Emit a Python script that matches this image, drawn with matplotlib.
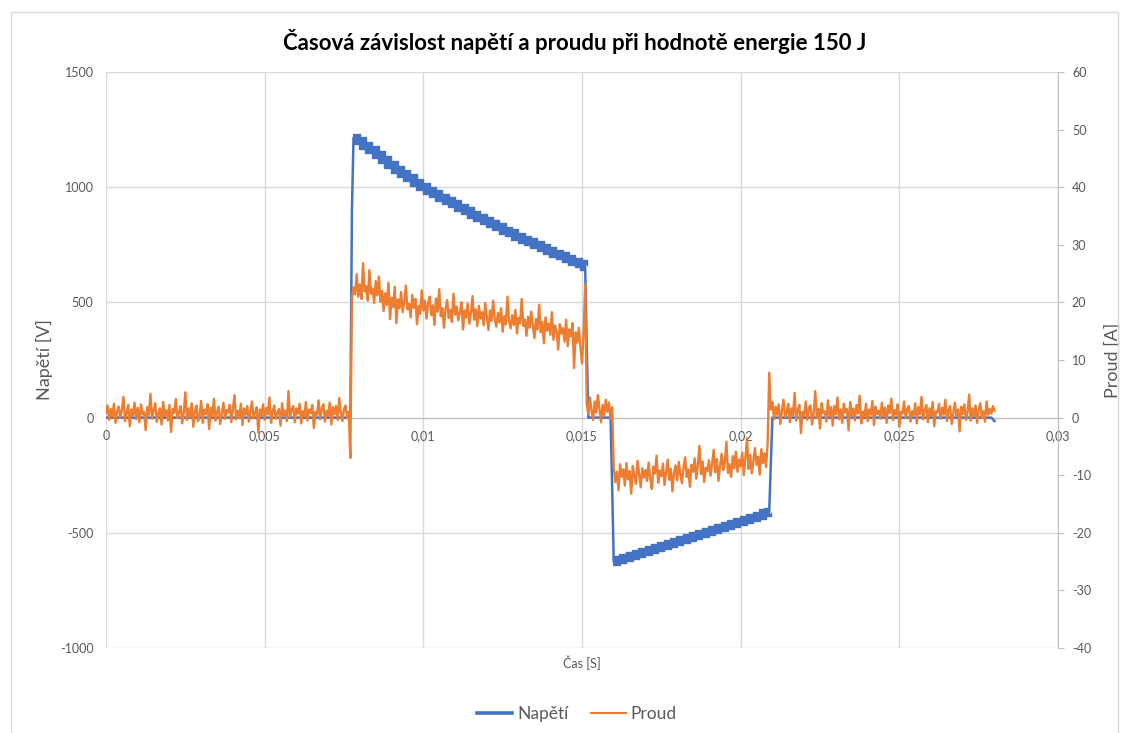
import numpy as np
import matplotlib
matplotlib.use('Agg')
import matplotlib.pyplot as plt
from matplotlib.patches import Rectangle
from matplotlib.lines import Line2D
from matplotlib.ticker import FuncFormatter

plt.rcParams['font.family'] = ['Lato', 'DejaVu Sans']
plt.rcParams['axes.unicode_minus'] = False

# ---------------- texts ----------------
title = 'Časová závislost napětí a proudu při hodnotě energie 150 J'
xlabel = 'Čas [S]'
ylabel_left = 'Napětí [V]'
ylabel_right = 'Proud [A]'
series_names = ['Napětí', 'Proud']

x_ticks = [0, 0.005, 0.01, 0.015, 0.02, 0.025, 0.03]
y_ticks_left = [-1000, -500, 0, 500, 1000, 1500]
y_ticks_right = [-40, -30, -20, -10, 0, 10, 20, 30, 40, 50, 60]

# ---------------- voltage (V) ----------------
volt_t = [0.0, 0.0077, 0.00775,
          0.0078, 0.0080, 0.0082, 0.0084, 0.0086, 0.0088, 0.0090, 0.0092, 0.0094, 0.0096,
          0.0098, 0.0100, 0.0102, 0.0104, 0.0106, 0.0108, 0.0110, 0.0112, 0.0114, 0.0116,
          0.0118, 0.0120, 0.0122, 0.0124, 0.0126, 0.0128, 0.0130, 0.0132, 0.0134, 0.0136,
          0.0138, 0.0140, 0.0142, 0.0144, 0.0146, 0.0148, 0.0150, 0.0151,
          0.01515, 0.0152, 0.0159, 0.01595,
          0.0160, 0.0162, 0.0164, 0.0166, 0.0168, 0.0170, 0.0172, 0.0174, 0.0176, 0.0178,
          0.0180, 0.0182, 0.0184, 0.0186, 0.0188, 0.0190, 0.0192, 0.0194, 0.0196, 0.0198,
          0.0200, 0.0202, 0.0204, 0.0206, 0.0208, 0.0209,
          0.02095, 0.0210, 0.0279, 0.0280]
volt_u = [0, 0, 900,
          1215, 1200, 1180, 1160, 1140, 1118, 1095, 1075, 1058, 1038,
          1020, 1000, 985, 970, 955, 940, 925, 910, 895, 880,
          866, 852, 840, 826, 812, 800, 786, 773, 760, 748,
          736, 724, 712, 700, 690, 676, 665, 655,
          300, 0, 0, -300,
          -625, -616, -608, -600, -591, -582, -574, -565, -557, -548,
          -540, -531, -523, -514, -506, -497, -489, -480, -472, -463,
          -455, -445, -435, -425, -416, -410,
          -200, 0, 0, -15]
pulse_windows = [(0.0078, 0.0151), (0.0160, 0.0209)]

# ---------------- current (A), one sample every 0.05 ms from 0 to 28 ms ----------------
cur_dt = 0.00005
cur_base1 = [0.8, 2.1, -0.4, 1.5, 0.2, 2.4, -0.9, 1.1, 1.9, 0.0,
             1.3, 3.6, -0.6, 0.9, 2.2, -1.5, 1.4, 0.4, 2.6, -0.3,
             1.7, -0.8, 2.3, 0.6, 1.0, -2.2, 1.8, 0.5, 4.1, -0.2,
             1.2, 2.5, -0.7, 0.7, 1.6, -1.2, 2.7, 0.3, 1.3, -0.5,
             2.2, -2.5, 1.5, 0.8, 3.2, -0.1, 0.9, 2.0, -1.0, 0.8,
             4.4, -0.4, 1.6, 0.1, 2.5, -1.6, 1.1, 2.1, -0.6, 0.4,
             2.9, -0.9, 1.4, 0.6, 2.3, -2.0, 1.7, 0.2, 3.3, -0.5,
             1.0, 1.9, -1.1, 0.7, 2.6, -0.2, 1.3, 0.9, 2.2, -0.8,
             1.5, 3.9, -0.3, 1.2, 0.0, 2.4, -1.3, 1.6, 0.5, 2.0,
             -0.7, 1.1, 2.8, -0.1, 0.8, 1.8, -2.6, 1.4, 0.3, 2.3,
             -0.4, 1.7, 0.6, 3.5, -0.9, 1.0, 2.1, -0.2, 0.9, 1.5,
             -1.4, 2.5, 0.4, 1.2, -0.6, 4.6, 0.1, 1.3, 2.0, -0.8,
             1.6, 0.7, 2.4, -1.0, 1.1, 0.2, 2.7, -0.5, 1.4, 0.8,
             2.2, -1.8, 1.0, 0.5, 3.0, -0.3, 1.6, 2.3, -0.7, 1.2,
             0.3, 2.6, -1.2, 1.8, 0.6, 2.0, -0.4, 3.4, 0.9, -0.6,
             1.5, 2.1, -0.1, 1.0]
cur_spike1 = [-7.0]
cur_pulse1 = [20.8, 22.6, 21.4, 24.9, 21.0, 23.1, 20.6, 26.8, 21.9, 22.8,
              20.3, 25.6, 21.5, 22.4, 19.9, 23.7, 21.2, 24.5, 20.1, 22.0,
              18.5, 21.6, 19.6, 23.4, 17.1, 20.8, 19.2, 22.7, 16.4, 20.5,
              19.0, 21.8, 18.3, 20.2, 22.9, 18.8, 19.7, 17.4, 21.3, 19.1,
              20.6, 16.2, 19.4, 18.0, 22.1, 18.6, 20.3, 17.2, 19.8, 21.0,
              17.8, 19.5, 16.1, 20.7, 18.4, 22.3, 17.6, 19.0, 15.6, 18.9,
              20.4, 17.3, 18.7, 16.6, 21.5, 17.9, 19.3, 16.9, 18.2, 20.0,
              15.3, 18.6, 17.4, 19.8, 16.3, 18.1, 21.1, 17.0, 18.8, 15.9,
              19.4, 17.2, 18.3, 16.0, 19.9, 17.5, 15.2, 18.6, 16.8, 20.3,
              17.1, 15.8, 18.2, 16.5, 19.0, 14.9, 17.6, 16.2, 21.0, 16.9,
              15.5, 17.8, 16.1, 18.7, 14.6, 17.3, 16.4, 20.6, 15.9, 17.0,
              14.2, 17.5, 15.6, 18.4, 16.0, 13.8, 17.1, 15.3, 19.6, 14.8,
              16.6, 12.9, 17.4, 15.1, 16.3, 14.4, 18.3, 13.5, 16.0, 14.9,
              11.8, 16.2, 14.6, 15.5, 13.2, 17.0, 12.4, 15.3, 14.1, 16.4,
              8.6, 14.8, 13.0, 15.6, 12.2, 9.4, 14.5]
cur_spike2 = [23.0]
cur_gap = [2.4, 0.6, 3.5, 1.2, -0.4, 2.8, 0.9, 3.9, 1.5, -0.8,
           2.2, 0.4, 3.1, 1.0, 2.6, -0.2, 1.8]
cur_pulse2 = [-8.6, -11.2, -9.4, -12.6, -8.1, -10.3, -9.0, -11.8, -7.9, -10.7,
              -9.3, -13.2, -8.4, -10.1, -11.5, -7.5, -9.8, -12.1, -8.8, -10.4,
              -9.1, -11.0, -7.8, -10.6, -12.4, -8.5, -9.7, -6.6, -11.3, -9.2,
              -10.2, -8.0, -11.7, -9.5, -7.3, -10.8, -8.9, -12.8, -9.6, -8.3,
              -10.9, -7.7, -9.9, -11.4, -8.6, -6.9, -10.3, -9.0, -12.0, -8.2,
              -9.4, -7.1, -10.6, -8.3, -4.9, -9.8, -7.6, -11.2, -8.7, -9.3,
              -7.4, -10.1, -8.0, -5.6, -9.5, -7.2, -11.0, -8.4, -6.3, -9.1,
              -7.8, -4.2, -9.6, -8.1, -10.3, -6.7, -8.8, -5.9, -9.4, -7.3,
              -8.5, -6.1, -10.0, -7.0, -3.6, -8.9, -6.5, -9.7, -7.6, -5.3,
              -8.2, -6.8, -9.9, -5.5, -7.9, -6.2, -8.6, -4.4]
cur_spike3 = [7.8]
cur_base2 = [1.4, 2.7, -0.3, 1.9, 0.5, 2.3, -1.1, 1.2, 3.1, 0.1,
             0.9, 2.4, -0.8, 1.6, 0.4, 4.3, -0.5, 1.3, 2.2, -2.7,
             1.0, 0.3, 2.8, -0.4, 1.7, 2.1, -1.2, 0.7, 4.6, 0.0,
             1.5, -1.9, 2.5, 0.8, 1.1, -0.7, 3.0, 0.2, 1.8, -1.4,
             2.0, 0.6, 3.5, -0.3, 1.4, -0.9, 2.4, 0.9, 1.5, -2.2,
             2.7, 0.4, 1.6, -0.5, 2.2, 0.7, 3.8, -1.0, 1.0, 0.1,
             2.4, -0.6, 1.4, 0.5, 2.9, -1.3, 1.9, 0.6, 1.2, -0.2,
             2.6, 0.2, 1.7, -0.9, 2.1, 0.8, 3.3, -0.4, 1.3, 0.5,
             2.3, -1.6, 1.0, 0.7, 2.8, -0.1, 1.5, 2.0, -0.7, 1.1,
             0.4, 2.5, -1.0, 1.8, 0.6, 3.6, -0.3, 1.2, 2.2, -0.8,
             1.6, 0.3, 2.7, -1.5, 1.1, 0.9, 2.4, -0.2, 1.7, 0.5,
             3.1, -0.6, 1.3, 2.0, -1.1, 0.8, 2.6, 0.2, 1.4, -2.4,
             1.9, 0.6, 2.3, -0.4, 1.0, 4.0, -0.5, 1.6, 0.3, 2.1,
             -0.9, 1.3, 2.5, 0.0, 1.1, -0.7, 2.8, 0.5, 1.5, 0.7,
             2.0, 1.2]

current = np.array(cur_base1 + cur_spike1 + cur_pulse1 + cur_spike2 + cur_gap +
                   cur_pulse2 + cur_spike3 + cur_base2)
cur_t = np.arange(len(current)) * cur_dt

# ---------------- styling ----------------
BLUE = '#4472C4'
ORANGE = '#ED7D31'
TXT = '#595959'
GRID = '#D9D9D9'
AXL = '#BFBFBF'

W, H = 1125, 733
fig = plt.figure(figsize=(W / 100, H / 100), dpi=100)
fig.patches.append(Rectangle((11 / W, -0.05), (1118 - 11) / W, 1 - 12 / H + 0.05,
                             transform=fig.transFigure, fill=False, edgecolor=GRID, lw=1.0))

ax = fig.add_axes([106 / W, 1 - 648 / H, 952 / W, 576 / H])
ax2 = ax.twinx()

vt = np.array(volt_t)
vu = np.array(volt_u, dtype=float)
ax.plot(vt, vu, color=BLUE, lw=1.8, zorder=3)
in_pulse = np.zeros(len(vt), dtype=bool)
for a, b in pulse_windows:
    in_pulse |= (vt >= a - 1e-9) & (vt <= b + 1e-9)
thick = np.where(in_pulse, vu, np.nan)
ax.plot(vt, thick, color=BLUE, lw=6.0, drawstyle='steps-mid',
        solid_capstyle='butt', solid_joinstyle='miter', zorder=3)

ax2.plot(cur_t, current, color=ORANGE, lw=1.7)

ax.set_xlim(0, 0.03)
ax.set_ylim(-1000, 1500)
ax2.set_ylim(-40, 60)

ax.set_xticks(x_ticks)
ax.xaxis.set_major_formatter(FuncFormatter(lambda v, p: '0' if v == 0 else f'{v:g}'.replace('.', ',')))
ax.set_yticks(y_ticks_left)
ax2.set_yticks(y_ticks_right)

ax.grid(True, color=GRID, lw=1.0)
ax.set_axisbelow(True)

for s in ['top', 'left', 'right']:
    ax.spines[s].set_visible(False)
ax.spines['bottom'].set_position(('data', 0))
ax.spines['bottom'].set_color(AXL)
ax.spines['bottom'].set_zorder(1)
for s in ['top', 'left', 'bottom']:
    ax2.spines[s].set_visible(False)
ax2.spines['right'].set_color(AXL)

ax.tick_params(axis='x', length=0, pad=9, labelsize=9, labelcolor=TXT)
ax.tick_params(axis='y', length=0, pad=9, labelsize=9, labelcolor=TXT)
ax2.tick_params(axis='y', length=4, color=AXL, pad=6, labelsize=9, labelcolor=TXT)

ax.set_ylabel(ylabel_left, fontsize=13, color=TXT, labelpad=5)
ax2.set_ylabel(ylabel_right, fontsize=13, color=TXT, labelpad=10)

fig.text(582 / W, 1 - 663 / H, xlabel, ha='center', va='center', fontsize=9, color=TXT)
fig.text(575 / W, 1 - 42 / H, title, ha='center', va='center', fontsize=16,
         fontweight='bold', color='black')

handles = [Line2D([], [], color=BLUE, lw=2.6), Line2D([], [], color=ORANGE, lw=1.5)]
fig.legend(handles, series_names, loc='center', bbox_to_anchor=(577 / W, 1 - 714 / H),
           ncol=2, frameon=False, fontsize=12.5, handlelength=2.0, handletextpad=0.3,
           columnspacing=1.3, labelcolor=TXT)

fig.savefig('out.png', dpi=100)
